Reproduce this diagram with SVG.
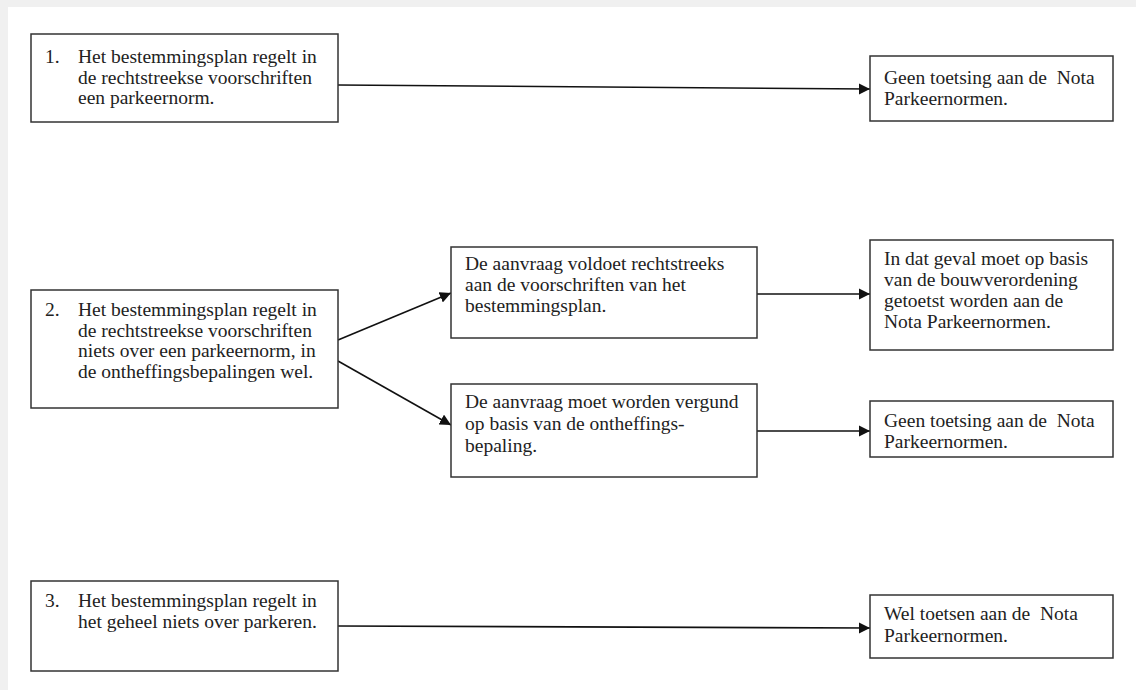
<svg xmlns="http://www.w3.org/2000/svg" width="1136" height="690" viewBox="0 0 1136 690">
<style>
.box{fill:#fff;stroke:#333;stroke-width:1.5}
.t{font-family:"Liberation Serif","Times New Roman",serif;font-size:19.5px;fill:#222;white-space:pre}
.c{stroke:#111;stroke-width:1.6;fill:none;marker-end:url(#ah)}
</style>
<defs>
<marker id="ah" viewBox="0 0 10 10" refX="10" refY="5" markerWidth="7" markerHeight="7" markerUnits="strokeWidth" orient="auto">
<path d="M0,0 L10,5 L0,10 z" fill="#111"/>
</marker>
</defs>
<rect x="0" y="0" width="1136" height="690" fill="#f0f0f0"/>
<rect x="8" y="7" width="1128" height="683" fill="#fff"/>
<g id="connectors">
<line class="c" x1="338" y1="85" x2="870" y2="89"/>
<line class="c" x1="338" y1="340" x2="451" y2="293"/>
<line class="c" x1="338" y1="361" x2="451" y2="425"/>
<line class="c" x1="757" y1="294" x2="870" y2="294"/>
<line class="c" x1="757" y1="431" x2="870" y2="431"/>
<line class="c" x1="338" y1="626" x2="870" y2="628"/>
</g>
<g id="n1">
<rect class="box" x="31" y="34" width="307" height="88"/>
<text class="t" x="45" y="63">1.</text>
<text class="t" x="78" y="63">Het bestemmingsplan regelt in</text>
<text class="t" x="78" y="83.5">de rechtstreekse voorschriften</text>
<text class="t" x="78" y="104">een parkeernorm.</text>
</g>
<g id="n1r">
<rect class="box" x="870" y="56" width="243" height="65"/>
<text class="t" x="884" y="84">Geen toetsing aan de  Nota</text>
<text class="t" x="884" y="105">Parkeernormen.</text>
</g>
<g id="n2">
<rect class="box" x="31" y="290" width="307" height="118"/>
<text class="t" x="45" y="316">2.</text>
<text class="t" x="78" y="316">Het bestemmingsplan regelt in</text>
<text class="t" x="78" y="336.5">de rechtstreekse voorschriften</text>
<text class="t" x="78" y="357">niets over een parkeernorm, in</text>
<text class="t" x="78" y="377.5">de ontheffingsbepalingen wel.</text>
</g>
<g id="n2a">
<rect class="box" x="451" y="247" width="306" height="91"/>
<text class="t" x="465" y="270">De aanvraag voldoet rechtstreeks</text>
<text class="t" x="465" y="291">aan de voorschriften van het</text>
<text class="t" x="465" y="312">bestemmingsplan.</text>
</g>
<g id="n2b">
<rect class="box" x="451" y="384" width="306" height="93"/>
<text class="t" x="465" y="408">De aanvraag moet worden vergund</text>
<text class="t" x="465" y="430">op basis van de ontheffings-</text>
<text class="t" x="465" y="452">bepaling.</text>
</g>
<g id="n2ar">
<rect class="box" x="870" y="240" width="243" height="110"/>
<text class="t" x="884" y="265">In dat geval moet op basis</text>
<text class="t" x="884" y="286">van de bouwverordening</text>
<text class="t" x="884" y="307">getoetst worden aan de</text>
<text class="t" x="884" y="328">Nota Parkeernormen.</text>
</g>
<g id="n2br">
<rect class="box" x="870" y="401" width="243" height="56"/>
<text class="t" x="884" y="427">Geen toetsing aan de  Nota</text>
<text class="t" x="884" y="448">Parkeernormen.</text>
</g>
<g id="n3">
<rect class="box" x="31" y="581" width="307" height="90"/>
<text class="t" x="45" y="607">3.</text>
<text class="t" x="78" y="607">Het bestemmingsplan regelt in</text>
<text class="t" x="78" y="628">het geheel niets over parkeren.</text>
</g>
<g id="n3r">
<rect class="box" x="870" y="595" width="243" height="63"/>
<text class="t" x="884" y="620">Wel toetsen aan de  Nota</text>
<text class="t" x="884" y="642">Parkeernormen.</text>
</g>
</svg>
